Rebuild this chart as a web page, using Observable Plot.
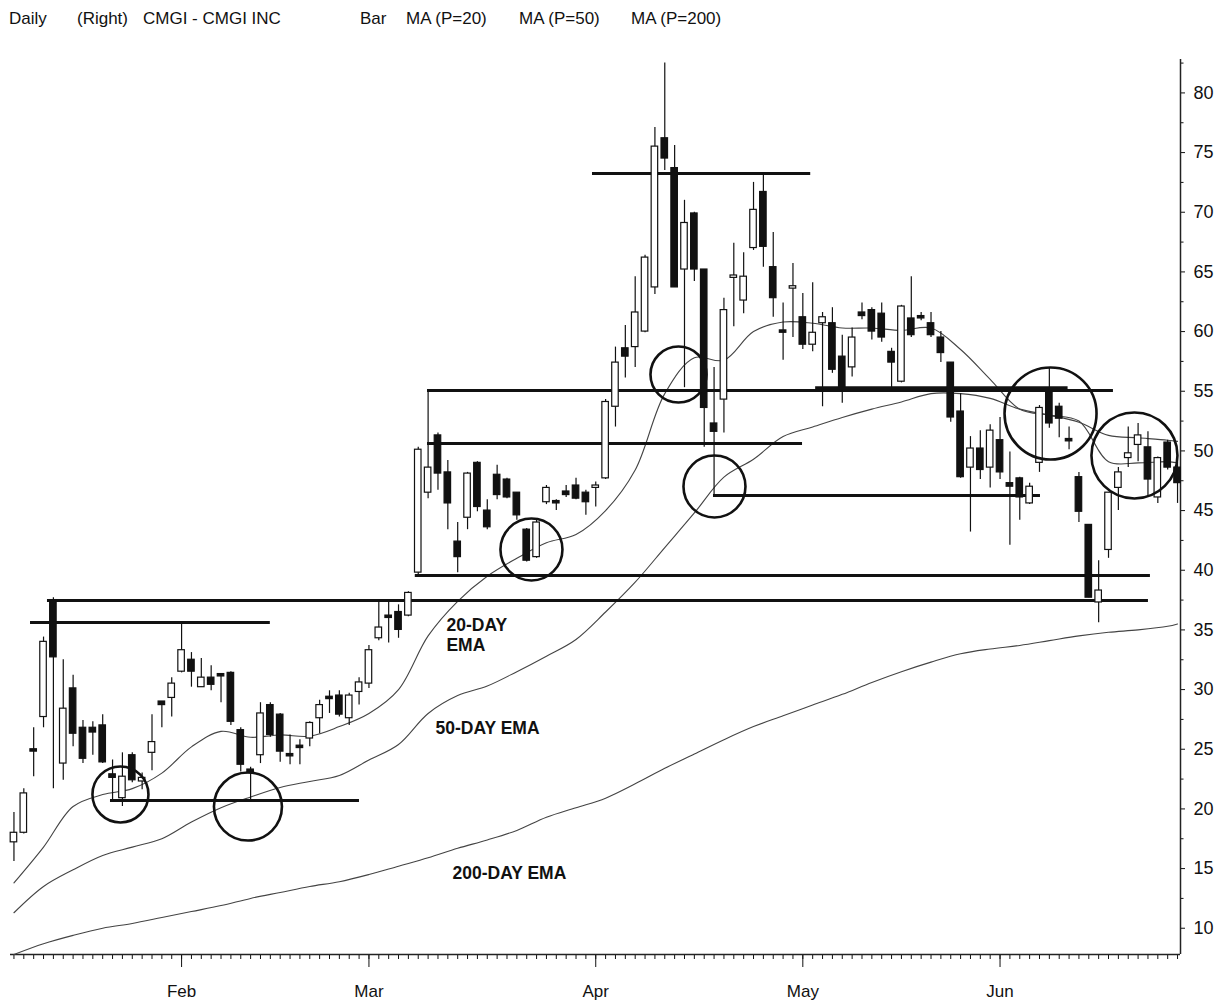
<!DOCTYPE html>
<html><head><meta charset="utf-8">
<script src="https://cdn.jsdelivr.net/npm/d3@7"></script>
<script src="https://cdn.jsdelivr.net/npm/@observablehq/plot@0.6"></script>
<style>
html,body{margin:0;padding:0;background:#fff;}
#wrap{position:relative;width:1223px;height:1000px;overflow:hidden;}
#hdr{position:relative;height:32px;font-family:"Liberation Sans",Arial,sans-serif;font-size:17px;color:#111;}
#hdr span{position:absolute;top:9px;line-height:20px;white-space:pre;}
#chart svg{display:block;}
</style></head><body>
<div id="wrap"><div id="hdr"></div><div id="chart"></div></div>
<script>
// ---- header texts ----
const headerTexts = ["Daily", "(Right)", "CMGI - CMGI INC", "Bar", "MA (P=20)", "MA (P=50)", "MA (P=200)"];

// ---- trading-day index (x categories) ----
const dayIdx = [0,1,2,3,4,5,6,7,8,9,10,11,12,13,14,15,16,17,18,19,20,21,22,23,24,25,26,27,28,29,30,31,32,33,34,35,36,37,38,39,40,41,42,43,44,45,46,47,48,49,50,51,52,53,54,55,56,57,58,59,60,61,62,63,64,65,66,67,68,69,70,71,72,73,74,75,76,77,78,79,80,81,82,83,84,85,86,87,88,89,90,91,92,93,94,95,96,97,98,99,100,101,102,103,104,105,106,107,108,109,110,111,112,113,114,115,116,117,118];

const opens = [17.2,18.0,25.0,27.7,37.5,23.8,30.1,26.8,26.8,27.0,
22.9,20.9,24.5,22.3,24.7,29.0,29.3,31.5,32.5,30.2,
31.0,31.3,31.4,26.6,23.3,24.5,28.7,27.9,24.6,25.3,
25.9,27.6,29.4,29.5,27.6,29.8,30.5,34.3,36.2,36.5,
36.2,39.8,46.5,51.3,48.2,42.4,44.4,49.0,45.0,48.0,
47.6,46.5,43.4,41.1,45.7,45.8,46.6,47.1,46.5,46.9,
47.7,53.7,58.6,58.7,60.0,63.7,76.2,73.7,65.2,69.9,
65.2,52.3,54.3,64.5,62.6,67.0,71.7,65.4,60.1,63.6,
61.2,58.9,60.7,60.7,57.9,57.0,61.6,61.8,61.5,58.3,
55.8,61.1,61.3,60.7,59.5,57.4,53.3,48.6,50.2,48.6,
50.9,47.3,47.7,45.6,49.0,54.9,53.7,51.0,47.8,43.8,
37.3,41.7,46.9,49.4,50.5,50.3,46.1,50.7,48.6];

const highs = [19.7,21.7,26.8,34.4,37.7,32.5,31.2,27.4,27.3,27.9,
24.1,24.7,24.7,23.0,27.9,29.0,31.0,35.7,33.1,32.6,
32.0,31.3,31.5,26.8,23.5,28.9,28.9,28.0,26.2,25.8,
27.3,29.1,29.9,29.9,29.7,31.0,33.7,37.5,37.3,37.1,
38.2,50.3,55.1,51.5,49.2,44.0,48.2,49.1,45.9,48.8,
47.7,46.5,43.5,44.2,47.1,45.9,47.1,47.7,46.7,47.4,
54.3,58.7,60.5,64.6,66.4,77.1,82.5,75.6,71.0,70.0,
65.2,57.0,62.8,67.4,66.6,72.5,73.3,68.3,62.4,65.7,
63.2,64.1,61.6,62.0,59.7,60.3,62.4,62.0,62.4,58.6,
62.2,64.6,61.6,61.6,60.0,57.4,54.8,51.2,51.7,52.2,
52.8,49.9,47.8,47.3,53.8,57.0,54.0,52.0,48.2,43.8,
40.8,46.5,48.6,52.0,52.3,51.6,49.5,50.9,49.0];

const lows = [15.6,17.9,22.7,26.8,21.7,22.4,25.2,23.8,24.5,23.8,
20.6,20.2,22.2,21.6,23.2,26.8,27.7,31.4,30.2,30.2,
29.9,28.9,27.0,23.1,20.6,23.8,26.0,23.9,23.7,23.7,
25.2,26.3,28.0,27.7,27.0,28.7,30.1,34.1,33.9,34.3,
36.1,39.6,46.0,46.7,43.4,39.8,43.4,44.9,43.4,45.9,
46.0,44.2,40.7,41.0,45.5,45.0,46.1,45.9,44.6,45.3,
47.6,52.0,56.1,57.0,59.9,63.1,73.5,63.7,55.3,64.2,
50.3,46.3,51.5,60.4,61.5,66.8,65.4,61.2,57.6,59.5,
58.5,58.3,53.7,56.5,54.0,56.2,61.0,59.3,59.1,55.3,
55.7,59.5,60.9,59.5,57.4,52.4,47.7,43.2,47.6,46.9,
47.6,42.1,44.2,45.5,48.2,51.9,51.1,50.1,44.0,37.7,
35.6,41.0,45.0,48.6,49.1,46.1,45.6,48.4,45.6];

const closes = [18.0,21.3,24.8,34.0,32.7,28.4,26.3,24.2,26.4,23.9,
22.6,22.7,22.4,22.6,25.6,28.7,30.5,33.3,31.5,31.0,
30.4,31.1,27.3,23.7,23.0,28.0,26.2,24.8,24.4,25.1,
27.2,28.7,29.2,27.9,29.5,30.6,33.3,35.2,36.0,35.0,
38.1,50.1,48.6,48.1,45.6,41.1,48.1,45.3,43.6,46.3,
46.1,44.6,40.8,44.0,46.9,45.6,46.3,46.0,45.7,47.1,
54.1,57.4,57.9,61.6,66.2,75.5,74.5,63.7,69.1,65.2,
53.6,51.6,61.8,64.7,64.6,70.2,67.1,62.8,59.9,63.8,
58.9,59.9,61.2,56.8,55.3,59.5,61.3,60.0,59.5,57.4,
62.1,59.7,61.1,59.7,58.2,52.8,47.8,50.2,48.4,51.7,
48.2,47.0,46.1,47.0,53.6,52.3,52.7,50.8,44.9,37.7,
38.3,46.5,48.2,49.8,51.3,47.6,49.4,48.6,47.3];

const emaIdx = [0,3,6,9,12,15,18,21,24,27,30,33,36,39,42,45,48,51,54,57,60,63,66,69,72,75,78,81,84,87,90,93,96,99,102,105,108,111,114,117,118];
const ema20 = [13.8,16.8,20.2,21.2,21.7,23.0,25.2,26.5,26.0,26.2,26.1,26.9,28.0,30.0,34.5,37.4,39.5,41.0,42.3,43.0,45.0,48.4,54.8,57.8,57.6,60.0,60.8,60.7,60.3,60.3,60.1,60.3,58.5,56.0,53.5,53.0,52.5,49.1,49.0,49.1,49.0];
const ema50 = [11.3,13.5,14.9,16.1,16.8,17.5,18.9,20.1,21.0,21.8,22.3,22.8,24.1,25.4,28.0,29.5,30.3,31.5,32.8,34.2,36.5,39.0,41.9,44.8,47.8,49.3,51.2,52.0,52.8,53.5,54.1,54.8,54.8,54.4,53.5,53.0,52.4,51.3,51.1,50.9,50.8];
const ema200 = [7.8,8.7,9.4,10.0,10.4,10.9,11.4,11.9,12.5,13.0,13.5,13.9,14.5,15.2,15.9,16.7,17.4,18.2,19.3,20.1,20.9,22.1,23.4,24.6,25.8,26.9,27.8,28.7,29.6,30.6,31.5,32.3,33.0,33.4,33.7,34.1,34.5,34.8,35.0,35.3,35.5];

// ---- annotation levels (price, from day, to day) ----
const levelPrice = [35.62, 37.47, 39.56, 50.62, 55.06, 55.3, 46.27, 73.25, 20.71];
const levelFrom  = [1.68, 3.4, 40.7, 41.94, 41.94, 81.3, 70.94, 58.67, 9.79];
const levelTo    = [26.0, 115.05, 115.25, 79.97, 111.5, 106.9, 104.1, 80.8, 35.04];

// ---- annotation circles (day, price, radius px) ----
const circleDay   = [10.8, 23.73, 52.48, 67.39, 71.04, 105.12, 113.63];
const circlePrice = [21.21, 20.2, 41.74, 56.4, 47.02, 53.14, 49.62];
const circleR     = [28, 34, 31, 28, 31, 46, 43];

// ---- annotation labels ----
const noteText  = ["20-DAY", "EMA", "50-DAY EMA", "200-DAY EMA"];
const noteDay   = [43.86, 43.86, 42.75, 44.47];
const notePrice = [35.37, 33.69, 26.74, 14.59];

// ---- axes ----
const monthIdx = [17, 36, 59, 80, 100];
const monthLabels = ["Feb", "Mar", "Apr", "May", "Jun"];
const yTicks = [10,15,20,25,30,35,40,45,50,55,60,65,70,75,80];
const yMinor = [7.5,12.5,17.5,22.5,27.5,32.5,37.5,42.5,47.5,52.5,57.5,62.5,67.5,72.5,77.5,82.5];
const xDomain = [-0.35, 118.3];
const yDomain = [7.8, 82.8];

// ---- header ----
const hdrLeft = [9, 77, 143, 360, 406, 519, 631];
const hdr = document.getElementById("hdr");
headerTexts.forEach((t, k) => {
  const s = document.createElement("span");
  s.textContent = t; s.style.left = hdrLeft[k] + "px";
  hdr.appendChild(s);
});

// ---- tables ----
const candles = dayIdx.map((i, k) => ({i, open: opens[k], high: highs[k], low: lows[k], close: closes[k]}));
const emaRows = [];
emaIdx.forEach((i, k) => {
  emaRows.push({i, v: ema20[k], s: "20"});
  emaRows.push({i, v: ema50[k], s: "50"});
  emaRows.push({i, v: ema200[k], s: "200"});
});
const levels = levelPrice.map((p, k) => ({p, a: levelFrom[k], b: levelTo[k]}));
const circles = circleDay.map((d, k) => ({d, p: circlePrice[k], r: circleR[k]}));
const notes = noteText.map((t, k) => ({t, d: noteDay[k], p: notePrice[k]}));
const bodyHalf = 0.33;
const font = "'Liberation Sans', Arial, sans-serif";

const chart = Plot.plot({
  width: 1223, height: 968,
  marginTop: 27, marginBottom: 46, marginLeft: 10, marginRight: 43,
  x: {domain: xDomain},
  y: {domain: yDomain},
  r: {type: "identity"},
  style: {fontFamily: font, color: "#111", background: "white", overflow: "visible"},
  marks: [
    Plot.axisX({ticks: dayIdx, tickSize: 5, tickFormat: () => "", anchor: "bottom", strokeWidth: 1}),
    Plot.axisX({ticks: monthIdx, tickSize: 13, tickPadding: 17, anchor: "bottom",
      tickFormat: i => monthLabels[monthIdx.indexOf(i)], fontSize: 17, fontFamily: font}),
    Plot.axisY({ticks: yMinor.filter(v => v >= yDomain[0] && v <= yDomain[1]), anchor: "right", tickSize: 2.5, tickFormat: () => ""}),
    Plot.axisY({ticks: yTicks, anchor: "right", tickSize: 4, tickPadding: 9, fontSize: 18, fontFamily: font}),
    Plot.ruleY([yDomain[0]], {stroke: "#222", strokeWidth: 1.5}),
    Plot.ruleX([xDomain[1]], {stroke: "#222", strokeWidth: 1.5}),
    Plot.line(emaRows, {x: "i", y: "v", z: "s", stroke: "#444", strokeWidth: 1.1, curve: "catmull-rom"}),
    Plot.ruleY(levels, {y: "p", x1: "a", x2: "b", stroke: "#111", strokeWidth: 3}),
    Plot.ruleX(candles, {x: "i", y1: "low", y2: "high", stroke: "#111", strokeWidth: 1.2}),
    Plot.rect(candles, {
      x1: d => d.i - bodyHalf, x2: d => d.i + bodyHalf,
      y1: "open", y2: "close",
      fill: d => d.close > d.open ? "white" : "#111",
      stroke: "#111", strokeWidth: 1.2
    }),
    Plot.dot(circles, {x: "d", y: "p", r: "r", fill: "none", stroke: "#111", strokeWidth: 2.6}),
    Plot.text(notes, {x: "d", y: "p", text: "t", textAnchor: "start", lineAnchor: "middle",
      fontSize: 17.5, fontWeight: "bold", fontFamily: font, fill: "#111"})
  ]
});
document.getElementById("chart").appendChild(chart);
</script>
</body></html>
